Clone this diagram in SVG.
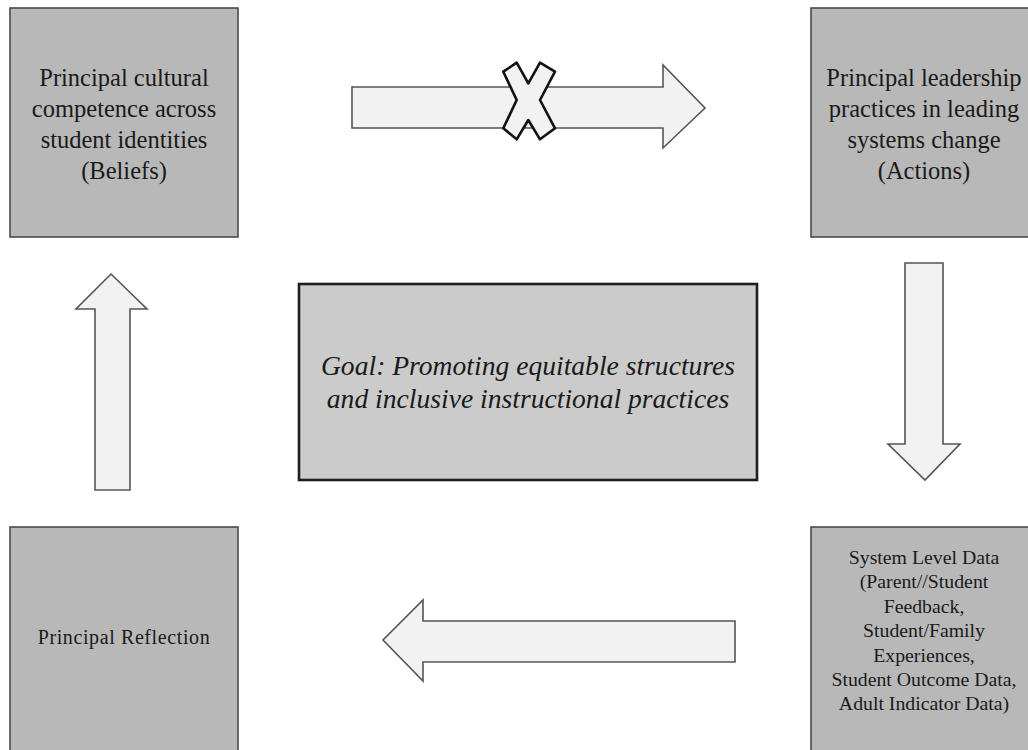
<svg xmlns="http://www.w3.org/2000/svg" width="1028" height="750" viewBox="0 0 1028 750">
<style>
.box{fill:#b8b8b8;stroke:#4a4a4a;stroke-width:1.6}
.goal{fill:#cbcbcb;stroke:#1e1e1e;stroke-width:2.6}
.arrow{fill:#f2f2f2;stroke:#555;stroke-width:1.6;stroke-linejoin:miter}
.x{fill:#f2f2f2;stroke:#111;stroke-width:2.6;stroke-linejoin:round}
text{font-family:"Liberation Serif","Times New Roman",serif;fill:#1a1a1a;text-anchor:middle}
.big{font-size:24.5px}
.small{font-size:19.8px}
.goalt{font-size:27.6px;font-style:italic}
</style>
<rect width="1028" height="750" fill="#ffffff"/>
<g id="beliefs">
<rect class="box" x="10" y="8" width="228" height="229"/>
<text class="big"><tspan x="124" y="86">Principal cultural</tspan><tspan x="124" y="117">competence across</tspan><tspan x="124" y="148">student identities</tspan><tspan x="124" y="179">(Beliefs)</tspan></text>
</g>
<g id="actions">
<rect class="box" x="811" y="8" width="230" height="229"/>
<text class="big"><tspan x="924" y="86">Principal leadership</tspan><tspan x="924" y="117">practices in leading</tspan><tspan x="924" y="148">systems change</tspan><tspan x="924" y="179">(Actions)</tspan></text>
</g>
<g id="reflection">
<rect class="box" x="10" y="527" width="228" height="240"/>
<text class="small" style="font-size:20px;letter-spacing:0.6px"><tspan x="124" y="644">Principal Reflection</tspan></text>
</g>
<g id="data">
<rect class="box" x="811" y="527" width="230" height="240"/>
<text class="small"><tspan x="924" y="564">System Level Data</tspan><tspan x="924" y="588">(Parent//Student</tspan><tspan x="924" y="613">Feedback,</tspan><tspan x="924" y="637">Student/Family</tspan><tspan x="924" y="662">Experiences,</tspan><tspan x="924" y="686">Student Outcome Data,</tspan><tspan x="924" y="710">Adult Indicator Data)</tspan></text>
</g>
<g id="goal">
<rect class="goal" x="299" y="284" width="458" height="196"/>
<text class="goalt"><tspan x="528" y="375">Goal: Promoting equitable structures</tspan><tspan x="528" y="408">and inclusive instructional practices</tspan></text>
</g>
<g id="connectors">
<path class="arrow" d="M352,87 H663 V65 L705,108 L663,148 V128 H352 Z"/>
<path class="x" d="M503.3,71.7 L516.7,62.7 L528.3,83.3 L540,62.7 L555,71.7 L540,100 L555,128.3 L540,139.3 L528.3,120 L516.7,139.3 L503.3,128.3 L516.7,100 Z"/>
<path class="arrow" d="M905,263 H943 V444 H960 L925,480 L888,444 H905 Z"/>
<path class="arrow" d="M735,621 H423 V600 L383,640 L423,681 V662 H735 Z"/>
<path class="arrow" d="M95,490 V309 H76 L111,274 L147,309 H130 V490 Z"/>
</g>
</svg>
